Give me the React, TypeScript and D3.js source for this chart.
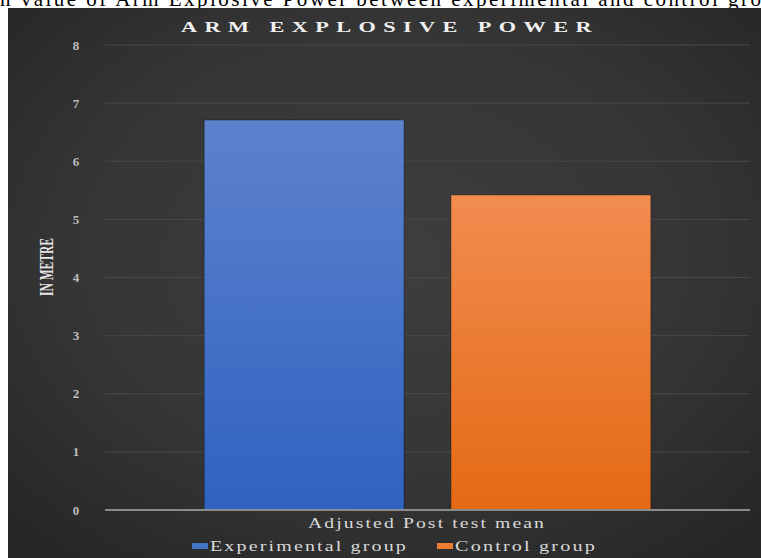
import React from "react";
import * as d3 from "d3";

const categories = ["Adjusted Post test mean"];
const seriesNames = ["Experimental group", "Control group"];
const seriesValues = [6.71, 5.42];
const yTicks = [0, 1, 2, 3, 4, 5, 6, 7, 8];
const chartTitle = "ARM EXPLOSIVE POWER";
const yAxisTitle = "IN METRE";
const captionText = "n value of Arm Explosive Power between experimental and control gro";

const W = 761;
const H = 558;

export default function App() {
  const left = 105;
  const right = 750;
  const top = 45;
  const bottom = 510;
  const y = d3.scaleLinear().domain([0, 8]).range([bottom, top]);
  const x0 = d3.scaleBand().domain(categories).range([left, right]).paddingInner(0).paddingOuter(0.222);
  const x1 = d3.scaleBand().domain(seriesNames).range([0, x0.bandwidth()]).paddingInner(0.19);
  const fills = ["url(#gBlue)", "url(#gOrange)"];
  const legendColors = ["#4472c4", "#ed7d31"];
  const legendX = [192, 437];
  const legendW = [198, 142];
  const serif = "'Liberation Serif', 'DejaVu Serif', serif";

  return (
    <svg width={W} height={H} style={{ position: "absolute", left: 0, top: 0 }}>
      <defs>
        <radialGradient id="bg" cx="50%" cy="45%" r="70%">
          <stop offset="0%" stopColor="#3e3e3e" />
          <stop offset="60%" stopColor="#353535" />
          <stop offset="100%" stopColor="#262626" />
        </radialGradient>
        <linearGradient id="gBlue" x1="0" y1="0" x2="0" y2="1">
          <stop offset="0%" stopColor="#5d82cd" />
          <stop offset="100%" stopColor="#2f62c0" />
        </linearGradient>
        <linearGradient id="gOrange" x1="0" y1="0" x2="0" y2="1">
          <stop offset="0%" stopColor="#f28c50" />
          <stop offset="100%" stopColor="#e46a14" />
        </linearGradient>
      </defs>
      <rect x={0} y={0} width={W} height={H} fill="#ffffff" />
      <text x={0} y={6} fontFamily={serif} fontSize={21} fill="#000" textLength={761} lengthAdjust="spacing">
        {captionText}
      </text>
      <rect x={8} y={8} width={W - 8} height={H - 8} fill="url(#bg)" />
      <text x={181} y={32} fontFamily={serif} fontWeight="bold" fontSize={15} fill="#f0f0f0" letterSpacing={5} textLength={418} lengthAdjust="spacingAndGlyphs">
        {chartTitle}
      </text>
      {yTicks.map((t) => (
        <g key={t}>
          {t > 0 && (
            <line x1={left} x2={right} y1={y(t)} y2={y(t)} stroke="#484848" strokeWidth={1} />
          )}
          <text x={76} y={y(t) + 4.5} textAnchor="middle" fontFamily={serif} fontWeight="bold" fontSize={13} fill="#bdbdbd">
            {t}
          </text>
        </g>
      ))}
      <text
        transform={`translate(53, 267) rotate(-90)`}
        textAnchor="middle"
        fontFamily={serif}
        fontWeight="bold"
        fontSize={18}
        fill="#e6e6e6"
        textLength={58}
        lengthAdjust="spacingAndGlyphs"
      >
        {yAxisTitle}
      </text>
      {categories.map((c) => (
        <g key={c} transform={`translate(${x0(c)},0)`}>
          {seriesNames.map((s, i) => (
            <rect
              key={s}
              x={x1(s)}
              y={y(seriesValues[i])}
              width={x1.bandwidth()}
              height={y(0) - y(seriesValues[i])}
              fill={fills[i]}
              stroke="rgba(0,0,0,0.35)"
              strokeWidth={1}
            />
          ))}
        </g>
      ))}
      <line x1={left} x2={right} y1={y(0)} y2={y(0)} stroke="#8a8a8a" strokeWidth={2} />
      {categories.map((c) => (
        <text key={c} x={308} y={528} fontFamily={serif} fontSize={14} fill="#d9d9d9" letterSpacing={1.5} textLength={238} lengthAdjust="spacingAndGlyphs">
          {c}
        </text>
      ))}
      {seriesNames.map((s, i) => (
        <g key={s}>
          <rect x={legendX[i]} y={543} width={16} height={6} fill={legendColors[i]} />
          <text x={legendX[i] + 18} y={551} fontFamily={serif} fontSize={14} fill="#d9d9d9" letterSpacing={1.5} textLength={legendW[i]} lengthAdjust="spacingAndGlyphs">
            {s}
          </text>
        </g>
      ))}
    </svg>
  );
}
